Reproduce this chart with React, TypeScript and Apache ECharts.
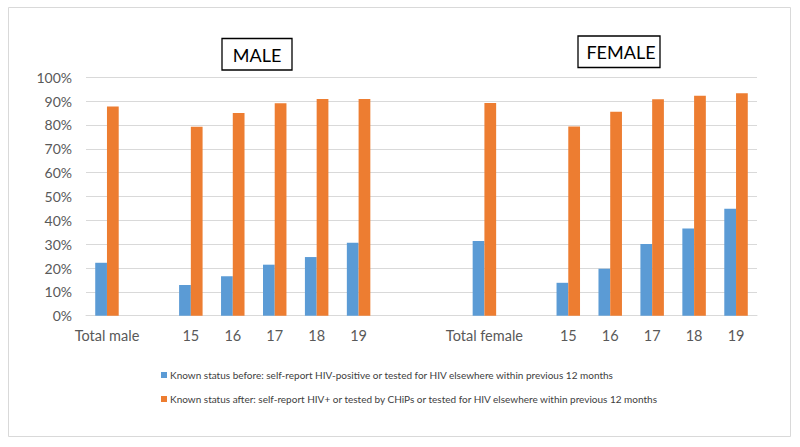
import React, { useEffect, useRef } from "react";
import * as echarts from "echarts";

const categories = ["Total male", "", "15", "16", "17", "18", "19", "", "", "Total female", "", "15", "16", "17", "18", "19"];
const seriesNames = [
  "Known status before: self-report HIV-positive or tested for HIV elsewhere within previous 12 months",
  "Known status after: self-report HIV+ or tested by CHiPs or tested for HIV elsewhere within previous 12 months",
];
const before = [22.2, null, 12.9, 16.5, 21.4, 24.6, 30.6, null, null, 31.3, null, 13.8, 19.7, 30.1, 36.6, 44.9];
const after = [87.7, null, 79.3, 85.0, 89.1, 90.9, 90.9, null, null, 89.2, null, 79.4, 85.6, 90.8, 92.3, 93.3];
const panelTitles = ["MALE", "FEMALE"];

export default function App() {
  const ref = useRef<HTMLDivElement>(null);
  useEffect(() => {
    if (!ref.current) return;
    const chart = echarts.init(ref.current, undefined, { renderer: "svg" });
    const font = "Lato, 'Liberation Sans', sans-serif";
    chart.setOption({
      animation: false,
      backgroundColor: "#ffffff",
      textStyle: { fontFamily: font },
      grid: { left: 86, right: 43, top: 77.3, bottom: 131.3 },
      legend: {
        orient: "vertical",
        left: 156,
        top: 365,
        itemWidth: 6,
        itemHeight: 6,
        itemGap: 14,
        icon: "rect",
        textStyle: { fontSize: 10, color: "#404040", fontFamily: font, padding: [0, 0, 0, -2] },
        data: seriesNames,
      },
      xAxis: {
        type: "category",
        data: categories,
        axisTick: { show: false },
        axisLine: { lineStyle: { color: "#d9d9d9" } },
        axisLabel: { interval: 0, fontSize: 14.5, color: "#595959", margin: 12, fontFamily: font },
      },
      yAxis: {
        type: "value",
        min: 0,
        max: 100,
        interval: 10,
        axisLabel: { formatter: "{value}%", fontSize: 14, color: "#595959", margin: 14, fontFamily: font },
        splitLine: { lineStyle: { color: "#d9d9d9" } },
        axisLine: { show: false },
        axisTick: { show: false },
      },
      series: [
        {
          name: seriesNames[0],
          type: "bar",
          data: before,
          itemStyle: { color: "#5b9bd5" },
          barGap: "0%",
          barCategoryGap: "44%",
        },
        {
          name: seriesNames[1],
          type: "bar",
          data: after,
          itemStyle: { color: "#ed7d31" },
          barGap: "0%",
          barCategoryGap: "44%",
        },
      ],
      graphic: [
        {
          type: "rect",
          shape: { x: 8.5, y: 7.5, width: 782, height: 429 },
          style: { fill: "none", stroke: "#d9d9d9", lineWidth: 1 },
          silent: true,
        },
        {
          type: "rect",
          shape: { x: 222, y: 38.5, width: 70, height: 31.5 },
          style: { fill: "#fff", stroke: "#000", lineWidth: 1.3 },
        },
        {
          type: "text",
          x: 257,
          y: 54.5,
          style: { text: panelTitles[0], fontSize: 18, fill: "#000", fontFamily: font, align: "center", verticalAlign: "middle" },
        },
        {
          type: "rect",
          shape: { x: 578, y: 36, width: 82, height: 31.5 },
          style: { fill: "#fff", stroke: "#000", lineWidth: 1.3 },
        },
        {
          type: "text",
          x: 621,
          y: 52,
          style: { text: panelTitles[1], fontSize: 18, fill: "#000", fontFamily: font, align: "center", verticalAlign: "middle" },
        },
      ],
    });
    return () => chart.dispose();
  }, []);
  return (
    <div
      ref={ref}
      style={{ position: "fixed", left: 0, top: 0, width: 800, height: 447, background: "#fff" }}
    />
  );
}
